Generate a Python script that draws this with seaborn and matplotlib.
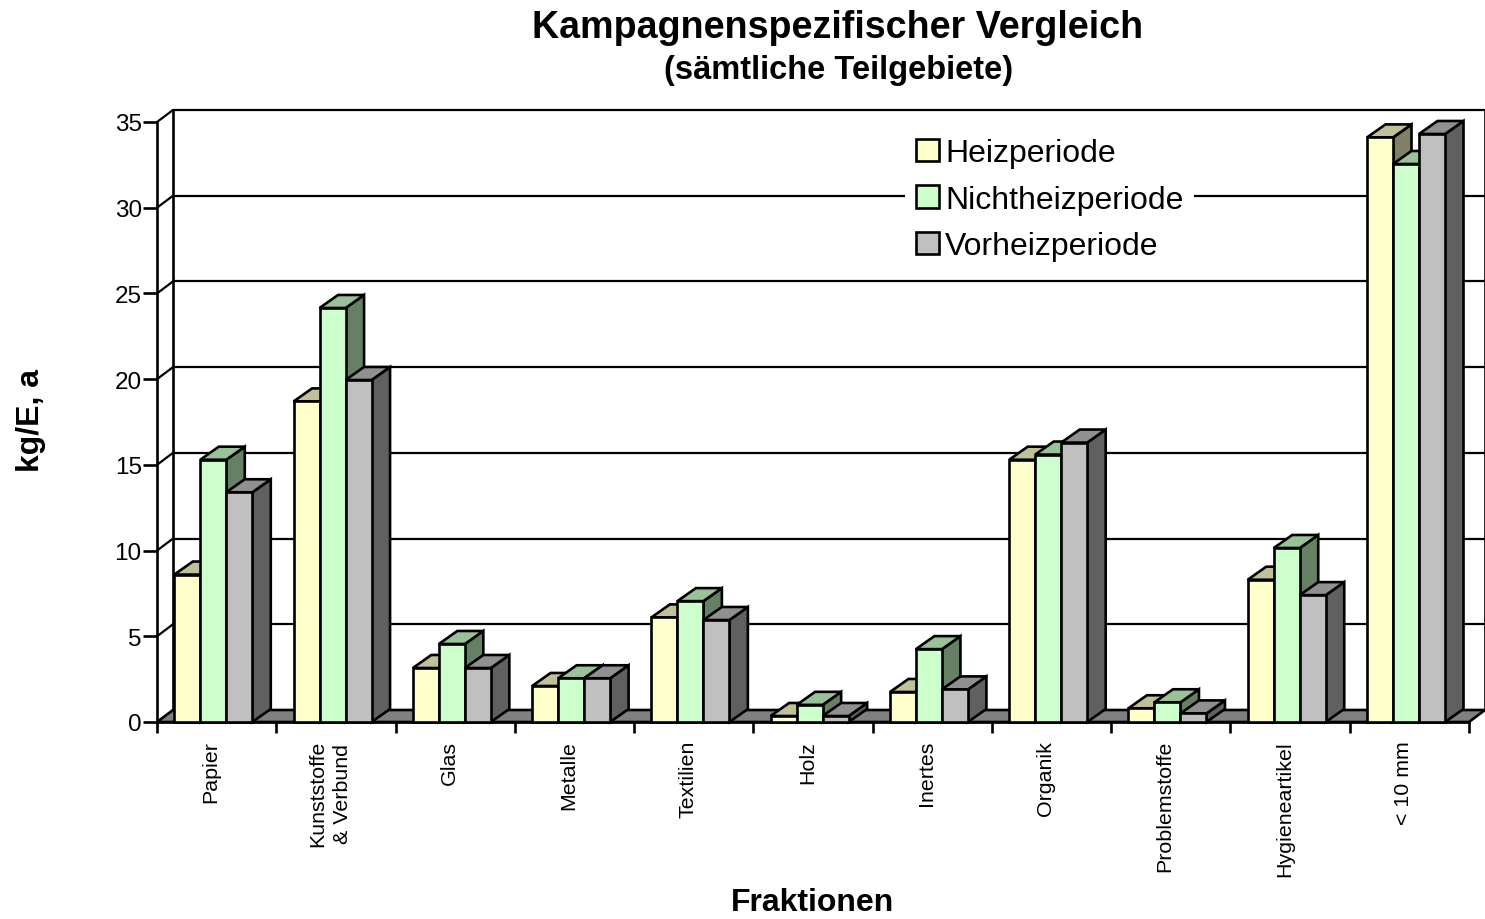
import numpy as np
import pandas as pd
import matplotlib
matplotlib.use("Agg")
import matplotlib.pyplot as plt
from matplotlib.patches import Polygon
import seaborn as sns

categories = ["Papier", "Kunststoffe\n& Verbund", "Glas", "Metalle", "Textilien", "Holz",
              "Inertes", "Organik", "Problemstoffe", "Hygieneartikel", "< 10 mm"]
heizperiode = [8.6, 18.7, 3.15, 2.1, 6.1, 0.35, 1.75, 15.3, 0.8, 8.3, 34.1]
nichtheizperiode = [15.3, 24.15, 4.55, 2.55, 7.05, 1.0, 4.25, 15.6, 1.15, 10.15, 32.55]
vorheizperiode = [13.4, 19.95, 3.15, 2.55, 5.95, 0.35, 1.9, 16.3, 0.5, 7.4, 34.3]
series_names = ["Heizperiode", "Nichtheizperiode", "Vorheizperiode"]
y_ticks = [0, 5, 10, 15, 20, 25, 30, 35]

front_colors = ["#FFFFCC", "#CCFFCC", "#C0C0C0"]
top_colors = ["#C0C099", "#99C299", "#909090"]
side_colors = ["#808066", "#668066", "#606060"]

sns.set_theme(style="white")
plt.rcParams["font.family"] = ["Liberation Sans", "DejaVu Sans"]

df = pd.DataFrame({
    "Fraktion": categories * 3,
    "Wert": heizperiode + nichtheizperiode + vorheizperiode,
    "Periode": sum([[n] * len(categories) for n in series_names], []),
})

W, H = 1485, 920
fig = plt.figure(figsize=(W / 100, H / 100), dpi=100, facecolor="white")
ax = fig.add_axes([157 / W, (H - 723) / H, (1469 - 157) / W, 600 / H])

LW = 1.9
GRID_LW = 1.6
sns.barplot(data=df, x="Fraktion", y="Wert", hue="Periode", order=categories,
            hue_order=series_names, palette=front_colors, saturation=1, width=0.654,
            gap=0, edgecolor="black", linewidth=LW, ax=ax)

x0, x1 = -0.472, 10.528
ax.set_xlim(x0, x1)
ax.set_ylim(0, 35)

# back wall and floor (depth in data units)
wall_dx, wall_dy = 0.134, 0.7
bar_dx, bar_dy = 0.155, 0.76
ax.add_patch(Polygon([(x0, 0), (x1, 0), (x1 + wall_dx, wall_dy), (x0 + wall_dx, wall_dy)],
                     closed=True, facecolor="#808080", edgecolor="black", lw=LW,
                     zorder=1, clip_on=False))
for t in y_ticks[1:]:
    ax.plot([x0, x0 + wall_dx], [t, t + wall_dy], color="black", lw=GRID_LW, zorder=1, clip_on=False)
    ax.plot([x0 + wall_dx, x1 + wall_dx], [t + wall_dy, t + wall_dy], color="black",
            lw=GRID_LW, zorder=0.8, clip_on=False)
ax.plot([x0 + wall_dx, x0 + wall_dx], [wall_dy, 35 + wall_dy], color="black", lw=LW,
        zorder=1, clip_on=False)
ax.plot([x1 + wall_dx, x1 + wall_dx], [wall_dy, 35 + wall_dy], color="black", lw=LW,
        zorder=1, clip_on=False)

# extruded faces derived from the seaborn bars
z = 5.0
n_cat = len(categories)
for c in range(n_cat):
    for s, container in enumerate(ax.containers):
        bar = container.patches[c]
        bx, bw, bh = bar.get_x(), bar.get_width(), bar.get_height()
        ax.add_patch(Polygon([(bx + bw, 0), (bx + bw + bar_dx, bar_dy),
                              (bx + bw + bar_dx, bh + bar_dy), (bx + bw, bh)],
                             closed=True, facecolor=side_colors[s], edgecolor="black",
                             lw=LW, zorder=z, clip_on=False, joinstyle="miter"))
        ax.add_patch(Polygon([(bx, bh), (bx + bw, bh), (bx + bw + bar_dx, bh + bar_dy),
                              (bx + bar_dx, bh + bar_dy)],
                             closed=True, facecolor=top_colors[s], edgecolor="black",
                             lw=LW, zorder=z + 0.1, clip_on=False, joinstyle="miter"))
        bar.set_zorder(z + 0.2)
        bar.set_clip_on(False)
        z += 0.3

# axes
sns.despine(ax=ax, top=True, right=True)
for side in ("left", "bottom"):
    ax.spines[side].set_linewidth(LW)
    ax.spines[side].set_color("black")
    ax.spines[side].set_zorder(2.5)

ax.set_yticks(y_ticks)
ax.tick_params(axis="y", which="major", left=True, length=10, width=LW, color="black",
               labelsize=17.5, pad=1, labelcolor="black")
ax.set_xticks(np.arange(n_cat + 1) + x0)
ax.set_xticklabels([])
ax.tick_params(axis="x", which="major", bottom=True, length=8, width=LW, color="black")
ax.set_xticks(np.arange(n_cat) - 0.02, labels=categories, minor=True)
ax.tick_params(axis="x", which="minor", bottom=False, length=0, pad=13, labelsize=15.4,
               labelcolor="black")
for lab in ax.get_xticklabels(minor=True):
    lab.set_rotation(90)
    lab.set_ha("center")
    lab.set_va("top")
    lab.set_multialignment("center")
    lab.set_linespacing(1.4)

ax.set_xlabel("")
ax.set_ylabel("")
fig.text(812 / W, (H - 903) / H, "Fraktionen", fontsize=23, fontweight="bold",
         ha="center", va="center", color="black")
fig.text(31 / W, (H - 421) / H, "kg/E, a", fontsize=23, fontweight="bold", rotation=90,
         ha="center", va="center", color="black")
fig.text(838 / W, (H - 28) / H, "Kampagnenspezifischer Vergleich", fontsize=27.1,
         fontweight="bold", ha="center", va="center", color="black")
fig.text(839 / W, (H - 70) / H, "(sämtliche Teilgebiete)", fontsize=23.5, fontweight="bold",
         ha="center", va="center", color="black")

sns.move_legend(ax, loc="upper left", bbox_to_anchor=(905 / W, (H - 128) / H),
                bbox_transform=fig.transFigure, title=None, frameon=True, framealpha=1,
                facecolor="white", edgecolor="none", fontsize=23, handlelength=0.7,
                handleheight=0.7, handletextpad=0.2, labelspacing=0.52, borderpad=0.35,
                fancybox=False, labelcolor="black", borderaxespad=0)

fig.savefig("out.png", dpi=100, facecolor="white")
